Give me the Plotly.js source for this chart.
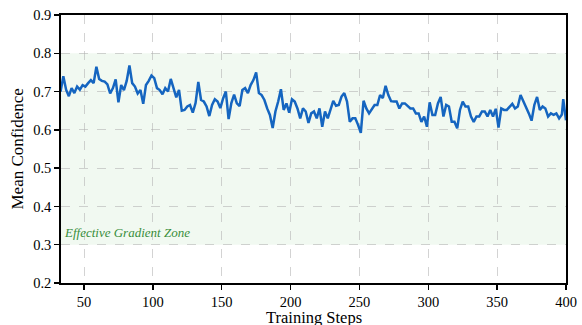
<!DOCTYPE html>
<html><head><meta charset="utf-8">
<script src="https://cdn.plot.ly/plotly-3.0.1.min.js"></script>
<style>html,body{margin:0;padding:0;background:#fff}#chart{width:582px;height:325px}</style>
</head><body><div id="chart"></div>
<script>
const steps = [33,35,37,39,41,43,45,47,49,51,53,55,57,59,61,63,65,67,69,71,73,75,77,79,81,83,85,87,89,91,93,95,97,99,
101,103,105,107,109,111,113,115,117,119,121,123,125,127,129,131,133,135,137,139,141,143,145,147,149,151,153,155,157,159,
161,163,165,167,169,171,173,175,177,179,181,183,185,187,189,191,193,195,197,199,201,203,205,207,209,211,213,215,217,219,
221,223,225,227,229,231,233,235,237,239,241,243,245,247,249,251,253,255,257,259,261,263,265,267,269,271,273,275,277,279,
281,283,285,287,289,291,293,295,297,299,301,303,305,307,309,311,313,315,317,319,321,323,325,327,329,331,333,335,337,339,
341,343,345,347,349,351,353,355,357,359,361,363,365,367,369,371,373,375,377,379,381,383,385,387,389,391,393,395,397,398,399,400];
const meanConfidence = [0.700,0.740,0.705,0.688,0.709,0.696,0.713,0.705,0.717,0.713,0.722,0.730,0.722,0.765,0.733,0.728,0.726,0.719,0.695,0.709,
0.732,0.672,0.717,0.704,0.728,0.768,0.722,0.713,0.695,0.704,0.668,0.717,0.728,0.742,
0.735,0.709,0.704,0.693,0.709,0.700,0.733,0.709,0.685,0.704,0.650,0.652,0.661,0.665,0.645,0.670,0.725,0.678,0.674,0.661,0.636,0.665,0.680,0.674,0.657,0.682,0.700,0.628,0.670,0.692,
0.669,0.662,0.704,0.709,0.696,0.717,0.730,0.750,0.696,0.691,0.678,0.656,0.639,0.605,0.648,0.674,0.706,0.652,0.669,0.645,0.680,0.674,0.656,0.630,0.656,0.648,0.618,0.643,0.648,0.630,
0.656,0.608,0.648,0.630,0.656,0.676,0.663,0.665,0.687,0.696,0.674,0.621,0.630,0.630,0.613,0.592,0.676,0.656,0.643,0.656,0.665,0.665,0.691,0.683,0.715,0.691,0.675,0.674,0.674,0.656,
0.669,0.669,0.663,0.656,0.656,0.643,0.643,0.621,0.635,0.608,0.672,0.639,0.639,0.669,0.686,0.635,0.665,0.661,0.621,0.621,0.604,0.652,0.674,0.661,0.661,0.635,0.621,0.635,0.635,0.648,
0.648,0.635,0.652,0.635,0.655,0.606,0.656,0.652,0.652,0.661,0.668,0.656,0.661,0.691,0.675,0.661,0.643,0.624,0.665,0.686,0.652,0.661,0.656,0.635,0.643,0.639,0.643,0.630,0.640,0.680,0.655,0.625];
const xTicks = [50,100,150,200,250,300,350,400];
const yTicks = [0.2,0.3,0.4,0.5,0.6,0.7,0.8,0.9];
const zoneLow = 0.3, zoneHigh = 0.8;
const zoneLabel = "Effective Gradient Zone";
const xTitle = "Training Steps", yTitle = "Mean Confidence";

const font = "Liberation Serif";
const trace = {x: steps, y: meanConfidence, type: 'scatter', mode: 'lines',
  line: {color: '#1565c0', width: 2.5}, hoverinfo: 'skip'};
const axisCommon = {showline: true, linecolor: '#000', linewidth: 1.8, mirror: true,
  ticks: 'outside', ticklen: 5, tickwidth: 1.3, tickcolor: '#000',
  showgrid: true, gridcolor: 'rgba(175,175,175,0.55)', griddash: 'dash', gridwidth: 1,
  zeroline: false, tickfont: {family: font, size: 14.5, color: '#000'}};
const layout = {
  width: 582, height: 325, margin: {l: 61, r: 16, t: 15, b: 42},
  paper_bgcolor: '#fff', plot_bgcolor: '#fff', showlegend: false,
  font: {family: font},
  xaxis: Object.assign({}, axisCommon, {range: [33.3, 400], tickvals: xTicks}),
  yaxis: Object.assign({}, axisCommon, {range: [0.2, 0.9], tickvals: yTicks, tickformat: '.1f'}),
  shapes: [{type: 'rect', xref: 'paper', yref: 'y', x0: 0, x1: 1, y0: zoneLow, y1: zoneHigh,
    fillcolor: 'rgba(76,175,80,0.08)', line: {width: 0}, layer: 'below'}],
  annotations: [
    {xref: 'paper', yref: 'y', x: 0.002, y: 0.332, xanchor: 'left', yanchor: 'middle',
     text: zoneLabel, showarrow: false, font: {family: font, size: 13, color: '#388e3c', style: 'italic'}},
    {xref: 'paper', yref: 'paper', x: 0.5, y: 0, xanchor: 'center', yanchor: 'top', yshift: -24,
     borderpad: 0, text: xTitle, showarrow: false, font: {family: font, size: 16.5, color: '#000'}},
    {xref: 'paper', yref: 'paper', x: 0, y: 0.5, xanchor: 'right', yanchor: 'middle', xshift: -33,
     textangle: -90, text: yTitle, showarrow: false, font: {family: font, size: 17, color: '#000'}}
  ]
};
Plotly.newPlot('chart', [trace], layout, {displayModeBar: false, staticPlot: true});
</script></body></html>
